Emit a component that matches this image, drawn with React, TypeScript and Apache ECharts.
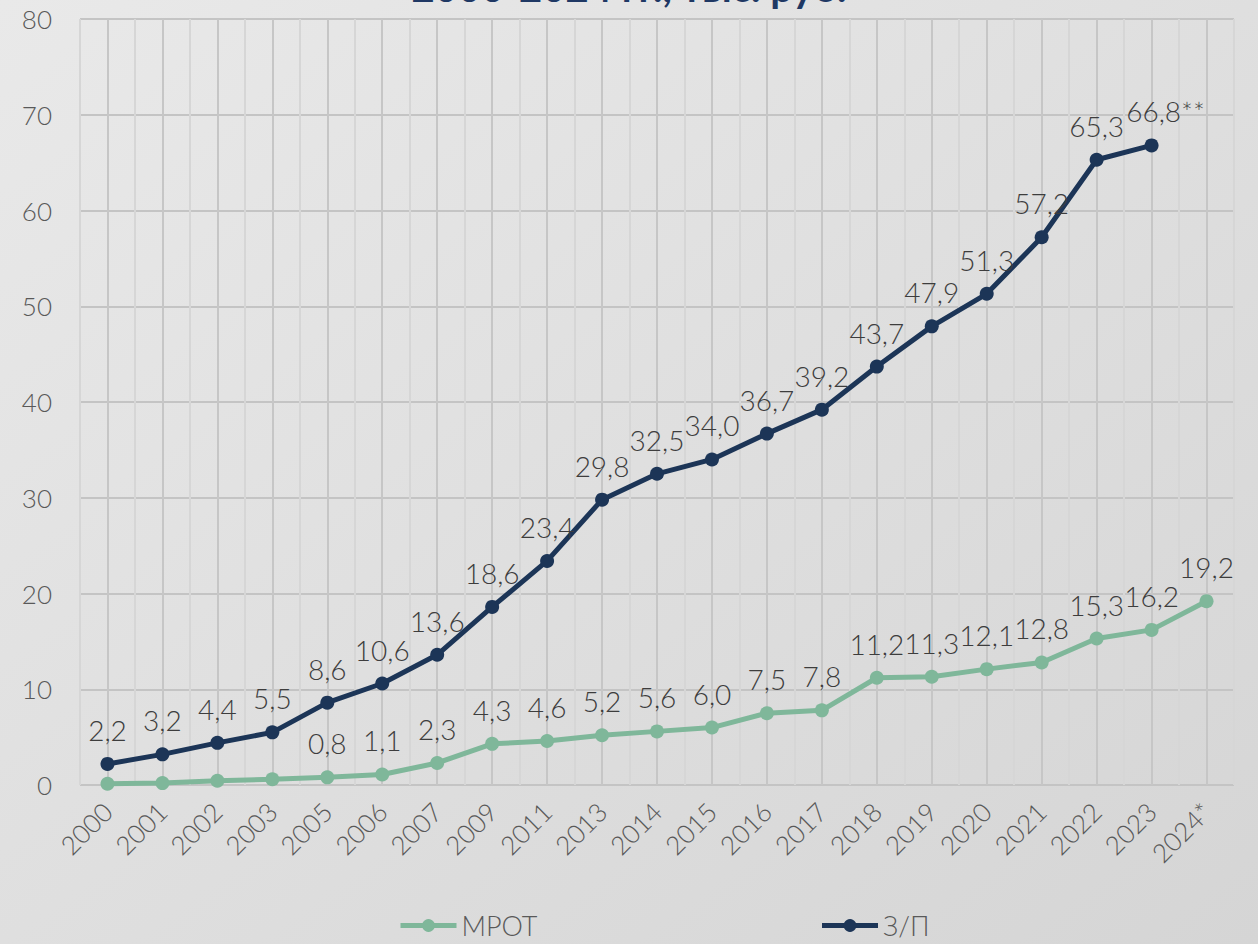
import React, { useEffect, useRef } from "react";
import * as echarts from "echarts";

const categories = ["2000", "2001", "2002", "2003", "2005", "2006", "2007", "2009", "2011", "2013", "2014", "2015", "2016", "2017", "2018", "2019", "2020", "2021", "2022", "2023", "2024*"];
const mrot = [0.13, 0.2, 0.45, 0.6, 0.8, 1.1, 2.3, 4.3, 4.6, 5.2, 5.6, 6.0, 7.5, 7.8, 11.2, 11.3, 12.1, 12.8, 15.3, 16.2, 19.2];
const mrotLabelHidden = [true, true, true, true];
const salary = [2.2, 3.2, 4.4, 5.5, 8.6, 10.6, 13.6, 18.6, 23.4, 29.8, 32.5, 34.0, 36.7, 39.2, 43.7, 47.9, 51.3, 57.2, 65.3, 66.8, null];
const salaryLabelSuffix: Record<number, string> = { 19: "**" };
const yTicks = { min: 0, max: 80, interval: 10 };
const titleText = "2000-2024 гг., тыс. руб.";
const seriesNames = ["МРОТ", "З/П"];

const FONT = "Lato, 'DejaVu Sans', sans-serif";
const fmt = (v: number) => v.toFixed(1).replace(".", ",");

export default function App() {
  const ref = useRef<HTMLDivElement>(null);
  useEffect(() => {
    document.body.style.margin = "0";
    const chart = echarts.init(ref.current!, null, { renderer: "svg" });
    const labelStyle = { show: true, position: "top", distance: 13, fontSize: 28, color: "#3d3d3d", fontFamily: FONT, fontWeight: 300 };
    chart.setOption({
      animation: false,
      backgroundColor: new echarts.graphic.LinearGradient(0, 0, 1, 1, [
        { offset: 0, color: "#e9e9e9" },
        { offset: 1, color: "#d5d5d5" },
      ]),
      title: {
        text: titleText,
        left: "center",
        top: -38,
        textStyle: { fontSize: 40, fontWeight: "bold", color: "#1f3864", fontFamily: FONT },
      },
      grid: { left: 80, right: 24, top: 19, bottom: 159 },
      legend: {
        bottom: 0,
        left: 393,
        itemGap: 282,
        itemWidth: 56,
        itemHeight: 16,
        lineStyle: { width: 5 },
        textStyle: { fontSize: 27, color: "#595959", fontFamily: FONT, fontWeight: 300 },
        data: seriesNames,
      },
      xAxis: [
        {
          type: "category",
          data: categories,
          boundaryGap: true,
          axisLine: { show: false },
          axisTick: { show: false },
          splitLine: { show: false },
          axisLabel: { rotate: 45, fontSize: 26, color: "#595959", fontFamily: FONT, fontWeight: 300, margin: 22, interval: 0 },
        },
        {
          type: "value",
          min: 0,
          max: categories.length * 2,
          interval: 1,
          position: "bottom",
          axisLine: { show: false },
          axisTick: { show: false },
          axisLabel: { show: false },
          splitLine: { show: true, lineStyle: { color: ["#d6d6d6", "#c6c6c6"], width: 2 } },
        },
      ],
      yAxis: {
        type: "value",
        min: yTicks.min,
        max: yTicks.max,
        interval: yTicks.interval,
        axisLine: { show: false },
        axisTick: { show: false },
        axisLabel: { fontSize: 26, color: "#595959", fontFamily: FONT, fontWeight: 300, margin: 28 },
        splitLine: { lineStyle: { color: "#c4c4c4", width: 2 } },
      },
      series: [
        {
          name: seriesNames[0],
          type: "line",
          xAxisIndex: 0,
          data: mrot.map((v, i) => ({ value: v, label: { show: !mrotLabelHidden[i] } })),
          symbol: "circle",
          symbolSize: 14,
          lineStyle: { width: 5, color: "#7fb79a" },
          itemStyle: { color: "#7fb79a" },
          label: { ...labelStyle, formatter: (p: any) => fmt(p.value) },
          z: 3,
        },
        {
          name: seriesNames[1],
          type: "line",
          xAxisIndex: 0,
          data: salary.map((v, i) =>
            salaryLabelSuffix[i]
              ? { value: v, label: { offset: [14, 0], formatter: (p: any) => fmt(p.value) + salaryLabelSuffix[i] } }
              : { value: v }
          ),
          symbol: "circle",
          symbolSize: 14,
          lineStyle: { width: 5, color: "#1c3557" },
          itemStyle: { color: "#1c3557" },
          label: { ...labelStyle, formatter: (p: any) => fmt(p.value) },
          z: 4,
        },
      ],
    });
    return () => chart.dispose();
  }, []);
  return <div ref={ref} style={{ width: 1258, height: 944 }} />;
}
